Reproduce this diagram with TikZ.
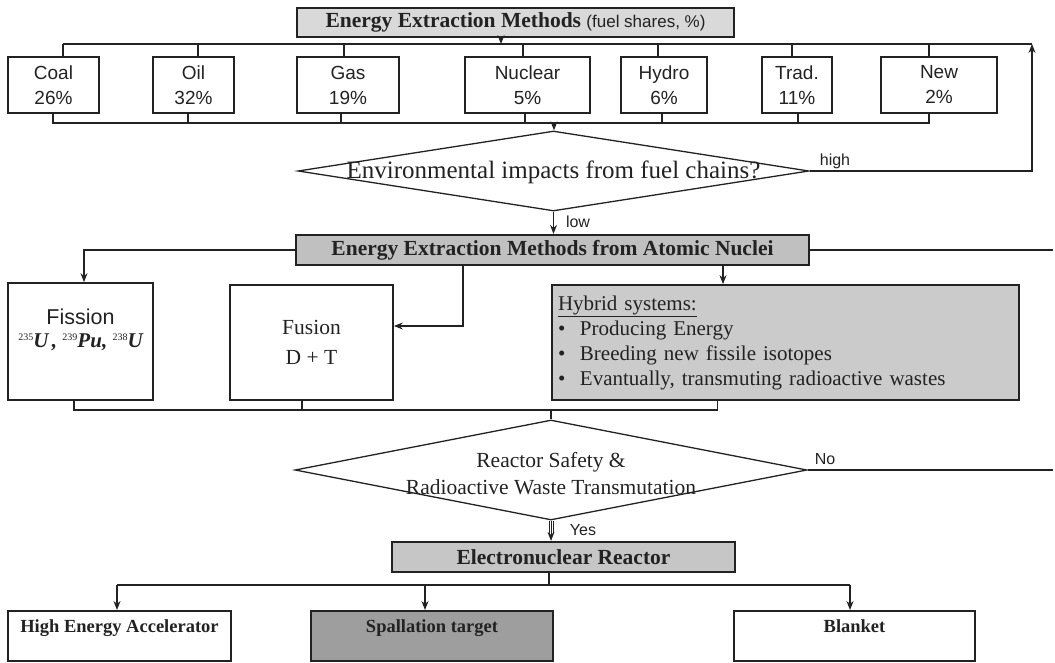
\documentclass[tikz,border=0pt]{standalone}
\usepackage{fontspec}
\setmainfont{Liberation Serif}
\setsansfont{Liberation Sans}
\usetikzlibrary{shapes.geometric,arrows.meta,calc}
\definecolor{ink}{HTML}{222222}
\definecolor{gA}{HTML}{D9D9D9}
\definecolor{gB}{HTML}{C0C0C0}
\definecolor{gC}{HTML}{CBCBCB}
\definecolor{gD}{HTML}{C6C6C6}
\definecolor{gE}{HTML}{9E9E9E}
\newcommand{\iso}[1]{\raisebox{7pt}{\mdseries\upshape\fontsize{10}{10}\selectfont #1}}
\begin{document}
\begin{tikzpicture}[x=1pt,y=-1pt,
  every node/.style={text=ink},
  box/.style={draw=ink, line width=1.7pt, inner sep=0pt, align=center},
  ttl/.style={box, line width=2.2pt, font=\bfseries\fontsize{21.5}{24}\selectfont},
  fuel/.style={box, minimum height=56pt, font=\sffamily\fontsize{19}{25}\selectfont},
  bot/.style={box, font=\bfseries\fontsize{18.5}{20}\selectfont, inner ysep=6pt, text height=16pt, text depth=22pt, anchor=north},
  dec/.style={diamond, draw=ink, line width=1.3pt, inner sep=0pt},
  lab/.style={font=\sffamily\fontsize{16}{18}\selectfont, inner sep=0pt},
  ln/.style={draw=ink, line width=1.2pt},
  arr/.style={ln, -{Stealth[length=9pt,width=7pt]}},
]
\useasboundingbox (0,0) rectangle (1055,662);

% title
\node[ttl, fill=gA, minimum width=437pt, minimum height=29pt] (t1) at (515.5,22.5)
  {Energy Extraction Methods {\mdseries\sffamily\fontsize{17}{20}\selectfont(fuel shares, \%)}};

% fuel boxes
\node[fuel, minimum width=91pt] (coal) at (53.5,85) {Coal\\26\%};
\node[fuel, minimum width=81pt] (oil) at (193.5,85) {Oil\\32\%};
\node[fuel, minimum width=102pt] (gas) at (348,85) {Gas\\19\%};
\node[fuel, minimum width=125pt] (nuc) at (527.5,85) {Nuclear\\5\%};
\node[fuel, minimum width=86pt] (hyd) at (664,85) {Hydro\\6\%};
\node[fuel, minimum width=70pt] (trad) at (797,85) {Trad.\\11\%};
\node[fuel, minimum width=116pt] (new) at (939,85) {New\\2\%};

\coordinate (tl) at (63,44);
\coordinate (tr) at (1032,44);
\coordinate (j1) at (554,123);

% decision 1
\node[dec, minimum width=511pt, minimum height=80pt] (d1) at (553.5,171) {};
\node[font=\fontsize{25}{27}\selectfont, inner sep=0pt] (d1t) at ([yshift=-1pt]d1.center) {Environmental impacts from fuel chains?};

% atomic nuclei
\node[ttl, fill=gB, minimum width=513pt, minimum height=30pt] (t2) at (552.5,250) {Energy Extraction Methods from Atomic Nuclei};

\node[box, minimum width=145pt, minimum height=117pt, font=\sffamily\fontsize{21.5}{24}\selectfont] (fis) at (80.5,341.5)
  {Fission\\[-1pt]{\rmfamily\bfseries\itshape\fontsize{21}{22}\selectfont \iso{235}U\,, \iso{239}Pu, \iso{238}U}\\[2pt]};
\node[box, minimum width=163pt, minimum height=115pt, font=\fontsize{21.5}{30}\selectfont] (fus) at (311.5,342.5) {Fusion\\D + T};
\node[box, fill=gC, minimum width=467pt, minimum height=115pt, text width=455pt, align=left, font=\fontsize{21}{25}\selectfont] (hyb) at (785.5,342.5)
  {\underline{Hybrid systems:}\\
   \makebox[22pt][l]{\textbullet}Producing Energy\\
   \makebox[22pt][l]{\textbullet}Breeding new fissile isotopes\\
   \makebox[22pt][l]{\textbullet}Evantually, transmuting radioactive wastes};

\coordinate (j2) at (551,410);

% decision 2
\node[dec, minimum width=512pt, minimum height=100pt] (d2) at (551,470) {};
\node[font=\fontsize{21.5}{27}\selectfont, align=center, inner sep=0pt] (d2t) at ([yshift=-4pt]d2.center) {Reactor Safety \&\\Radioactive Waste Transmutation};

% electronuclear
\node[ttl, fill=gD, minimum width=343pt, minimum height=30pt] (t3) at (563.5,557) {Electronuclear Reactor};

\node[bot, minimum width=223pt] (hea) at (119.5,610) {High Energy Accelerator};
\node[bot, fill=gE, minimum width=242pt] (spa) at (432,610) {Spallation target};
\node[bot, minimum width=241pt] (bla) at (854.5,610) {Blanket};

% connectors: top
\draw[ln] (tl) -- (tr);
\draw[arr] ([xshift=-14.5pt]t1.south) -- ([xshift=-14.5pt]t1.south |- tl);
\foreach \n/\d in {coal/9.5,oil/4.5,gas/-4,nuc/-4.5,hyd/-6,trad/-5,new/-10}
  \draw[ln] ([xshift=\d pt]\n.north) -- ([xshift=\d pt]\n.north |- tl);
\draw[ln] ([xshift=-0.5pt]coal.south) |- (j1) -| ([xshift=-10pt]new.south);
\foreach \n/\d in {oil/-5.5,gas/-7,nuc/-2.5,hyd/-2,trad/1}
  \draw[ln] ([xshift=\d pt]\n.south) -- ([xshift=\d pt]\n.south |- j1);
\draw[arr] (j1) -- (j1 |- d1.north);

\draw[arr] (d1.east) -- (d1.east -| tr) -- (tr);
\node[lab] (high) at (835,161) {high};
\draw[arr] (d1.south) -- (d1.south |- t2.north);
\node[lab] (low) at (578,222) {low};

% connectors: nuclei
\draw[arr] (t2.west) -| ([xshift=3.5pt]fis.north);
\draw[arr] ([xshift=-89.5pt]t2.south) |- ([yshift=16.5pt]fus.east);
\draw[arr] ([xshift=170.5pt]t2.south) -- ([xshift=170.5pt]t2.south |- hyb.north);
\coordinate (e1) at (1053,250);
\draw[ln] (t2.east) -- (e1);

\draw[ln] ([xshift=-6.5pt]fis.south) |- (j2) -| ([xshift=-68pt]hyb.south);
\draw[ln] ([xshift=-9.5pt]fus.south) -- ([xshift=-9.5pt]fus.south |- j2);
\draw[ln] (j2) -- (j2 |- d2.north);

\coordinate (e2) at (1053,470);
\draw[ln] (d2.east) -- (e2);
\node[lab] (no) at (825,459) {No};

% Yes: double arrow
\draw[ln, line width=0.9pt] ([xshift=-2pt]d2.south) -- ([xshift=-2pt,yshift=7pt]d2.south |- t3.north);
\draw[ln, line width=0.9pt] ([xshift=2pt]d2.south) -- ([xshift=2pt,yshift=7pt]d2.south |- t3.north);
\draw[arr, line width=0.9pt] (d2.south) -- (d2.south |- t3.north);
\node[lab] (yes) at (583,530) {Yes};

% connectors: bottom
\coordinate (j3) at (549,585);
\coordinate (a1) at (117,585);
\coordinate (a2) at (425,585);
\coordinate (a3) at (850,585);
\draw[ln] (j3 |- t3.south) -- (j3);
\draw[ln] (a1) -- (a3);
\draw[arr] (a1) -- (a1 |- hea.north);
\draw[arr] (a2) -- (a2 |- spa.north);
\draw[arr] (a3) -- (a3 |- bla.north);
\end{tikzpicture}
\end{document}
